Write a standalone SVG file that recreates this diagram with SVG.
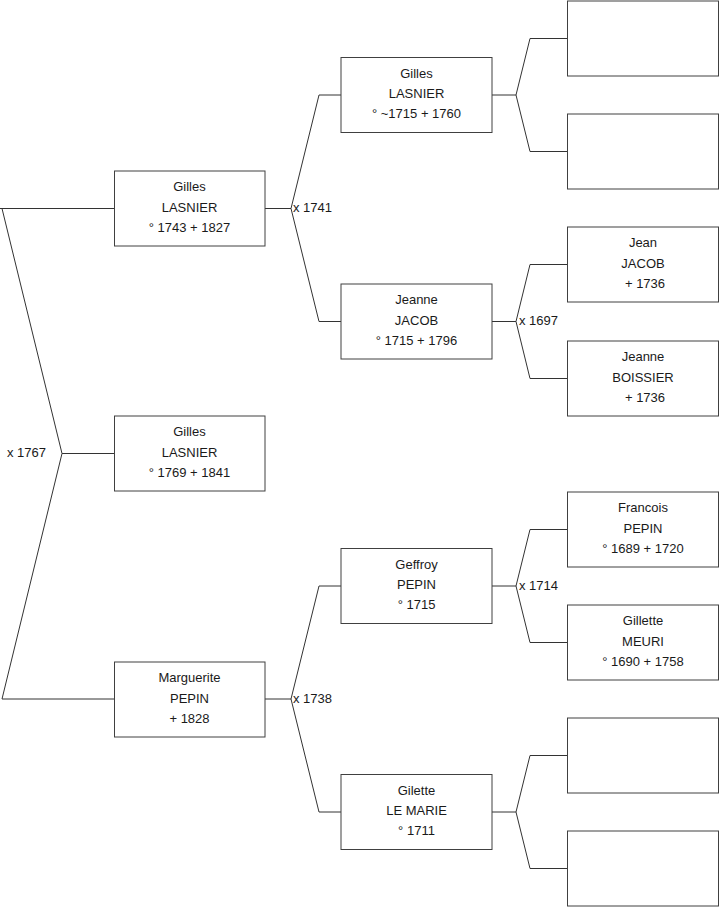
<svg xmlns="http://www.w3.org/2000/svg" width="719" height="908" viewBox="0 0 719 908">
<style>
.box{fill:#fff;stroke:#404040;stroke-width:1}
.ln{fill:none;stroke:#333;stroke-width:1}
text{font-family:"Liberation Sans",Arial,sans-serif;font-size:13px;fill:#1a1a1a}
.c{text-anchor:middle}
</style>
<rect width="719" height="908" fill="#fff"/>
<g id="connectors">
<path class="ln" d="M0,208.5 H114 M2,208.5 L62,453.5 L2,699 H114 M62,453.5 H114"/>
<path class="ln" d="M265,208.5 H291 M291,208.5 L319,95 H341 M291,208.5 L319,321.5 H341"/>
<path class="ln" d="M265,699 H291 M291,699 L319,586 H341 M291,699 L319,812 H341"/>
<path class="ln" d="M492,95 H516 M516,95 L530,38.5 H567 M516,95 L530,151.5 H567"/>
<path class="ln" d="M492,321.5 H516 M516,321.5 L530,264.5 H567 M516,321.5 L530,378.5 H567"/>
<path class="ln" d="M492,586 H516 M516,586 L530,529.5 H567 M516,586 L530,642.5 H567"/>
<path class="ln" d="M492,812 H516 M516,812 L530,755.5 H567 M516,812 L530,868.5 H567"/>
<text x="7" y="457">x 1767</text>
<text x="293" y="212">x 1741</text>
<text x="293" y="703">x 1738</text>
<text x="519" y="325">x 1697</text>
<text x="519" y="590">x 1714</text>
</g>
<g id="n1"><rect class="box" x="114.5" y="171" width="150.5" height="75"/>
<text class="c" x="189.5" y="191">Gilles</text><text class="c" x="189.5" y="211.5">LASNIER</text><text class="c" x="189.5" y="231.5">° 1743 + 1827</text></g>
<g id="n0"><rect class="box" x="114.5" y="416" width="150.5" height="75"/>
<text class="c" x="189.5" y="436">Gilles</text><text class="c" x="189.5" y="456.5">LASNIER</text><text class="c" x="189.5" y="476.5">° 1769 + 1841</text></g>
<g id="n2"><rect class="box" x="114.5" y="662" width="150.5" height="75"/>
<text class="c" x="189.5" y="682">Marguerite</text><text class="c" x="189.5" y="702.5">PEPIN</text><text class="c" x="189.5" y="722.5">+ 1828</text></g>
<g id="n3"><rect class="box" x="341" y="57.5" width="151" height="75"/>
<text class="c" x="416.5" y="77.5">Gilles</text><text class="c" x="416.5" y="98">LASNIER</text><text class="c" x="416.5" y="118">° ~1715 + 1760</text></g>
<g id="n4"><rect class="box" x="341" y="284" width="151" height="75"/>
<text class="c" x="416.5" y="304">Jeanne</text><text class="c" x="416.5" y="324.5">JACOB</text><text class="c" x="416.5" y="344.5">° 1715 + 1796</text></g>
<g id="n5"><rect class="box" x="341" y="548.5" width="151" height="75"/>
<text class="c" x="416.5" y="568.5">Geffroy</text><text class="c" x="416.5" y="589">PEPIN</text><text class="c" x="416.5" y="609">° 1715</text></g>
<g id="n6"><rect class="box" x="341" y="774.5" width="151" height="75"/>
<text class="c" x="416.5" y="794.5">Gilette</text><text class="c" x="416.5" y="815">LE MARIE</text><text class="c" x="416.5" y="835">° 1711</text></g>
<g id="n7"><rect class="box" x="567.5" y="1" width="151" height="75"/></g>
<g id="n8"><rect class="box" x="567.5" y="114" width="151" height="75"/></g>
<g id="n9"><rect class="box" x="567.5" y="227" width="151" height="75"/>
<text class="c" x="643" y="247">Jean</text><text class="c" x="643" y="267.5">JACOB</text><text class="c" x="645" y="287.5">+ 1736</text></g>
<g id="n10"><rect class="box" x="567.5" y="341" width="151" height="75"/>
<text class="c" x="643" y="361">Jeanne</text><text class="c" x="643" y="381.5">BOISSIER</text><text class="c" x="645" y="401.5">+ 1736</text></g>
<g id="n11"><rect class="box" x="567.5" y="492" width="151" height="75"/>
<text class="c" x="643" y="512">Francois</text><text class="c" x="643" y="532.5">PEPIN</text><text class="c" x="643" y="552.5">° 1689 + 1720</text></g>
<g id="n12"><rect class="box" x="567.5" y="605" width="151" height="75"/>
<text class="c" x="643" y="625">Gillette</text><text class="c" x="643" y="645.5">MEURI</text><text class="c" x="643" y="665.5">° 1690 + 1758</text></g>
<g id="n13"><rect class="box" x="567.5" y="718" width="151" height="75"/></g>
<g id="n14"><rect class="box" x="567.5" y="831" width="151" height="75"/></g>
</svg>
